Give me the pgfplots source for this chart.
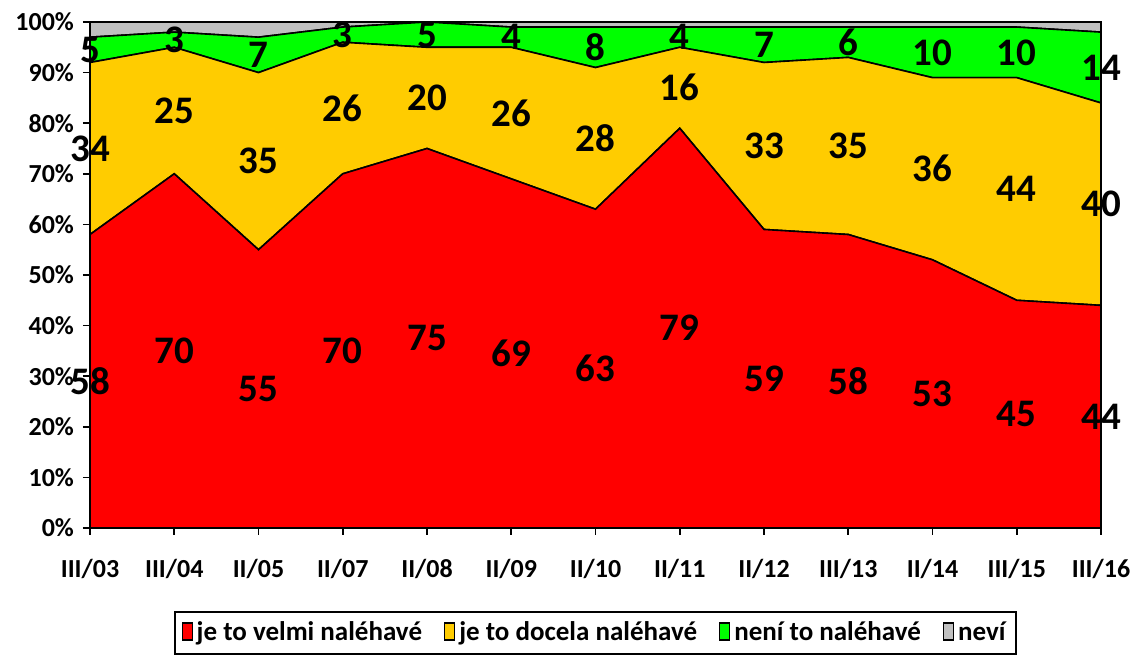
\documentclass[border=0pt]{standalone}
\usepackage{fontspec}
\setmainfont{Carlito}
\usepackage{pgfplots}
\pgfplotsset{compat=1.18}
\definecolor{cred}{RGB}{255,0,0}
\definecolor{cyellow}{RGB}{255,204,0}
\definecolor{cgreen}{RGB}{0,255,0}
\definecolor{cgray}{RGB}{192,192,192}

% shares in percent, one row per survey wave
\pgfplotstableread{
x red yellow green gray
0  58 34 5  3
1  70 25 3  2
2  55 35 7  3
3  70 26 3  1
4  75 20 5  0
5  69 26 4  1
6  63 28 8  1
7  79 16 4  1
8  59 33 7  1
9  58 35 6  1
10 53 36 10 1
11 45 44 10 1
12 44 40 14 2
}\shares

% label positions: middle of each band
\pgfplotstableread{
x y lab
0  29   58
1  35   70
2  27.5 55
3  35   70
4  37.5 75
5  34.5 69
6  31.5 63
7  39.5 79
8  29.5 59
9  29   58
10 26.5 53
11 22.5 45
12 22   44
0  75   34
1  82.5 25
2  72.5 35
3  83   26
4  85   20
5  82   26
6  77   28
7  87   16
8  75.5 33
9  75.5 35
10 71   36
11 67   44
12 64   40
0  94.5 5
1  96.5 3
2  93.5 7
3  97.5 3
4  97.5 5
5  97   4
6  95   8
7  97   4
8  95.5 7
9  96   6
10 94   10
11 94   10
12 91   14
}\labels

\begin{document}
\begin{tikzpicture}
\useasboundingbox (-45pt,-64.5pt) rectangle (522pt,264pt);
\begin{axis}[
    at={(0,0)}, anchor=south west,
    scale only axis,
    width=505.5pt, height=253pt,
    xmin=0, xmax=12, ymin=0, ymax=100,
    stack plots=y,
    area style,
    axis on top,
    axis line style={line width=1pt},
    xtick={0,...,12},
    xticklabels={III/03,III/04,II/05,II/07,II/08,II/09,II/10,II/11,II/12,III/13,II/14,III/15,III/16},
    ytick={0,10,...,100},
    yticklabel={\pgfmathprintnumber{\tick}\%},
    /pgf/number format/assume math mode=true,
    tick align=outside,
    xtick pos=bottom, ytick pos=left,
    major tick length=3.5pt,
    tick style={line width=0.8pt, black},
    ticklabel style={font=\fontsize{13}{14}\selectfont\bfseries},
    xticklabel style={yshift=-8.5pt},
    yticklabel style={xshift=-1pt},
    legend columns=-1,
    legend style={at={(0.5,-0.2075)}, anchor=center, draw=black, line width=1pt,
        font=\fontsize{13.5}{14}\selectfont\bfseries,
        inner xsep=3.5pt, inner ysep=3pt,
        /tikz/every even column/.append style={column sep=9pt}},
    legend image code/.code={\draw[#1, draw=black, line width=0.6pt] (0pt,-3.5pt) rectangle (5pt,5pt);},
]
\addplot[fill=cred, draw=black, line width=0.8pt] table[x=x, y=red] {\shares} \closedcycle;
\addlegendentry{je to velmi naléhavé}
\addplot[fill=cyellow, draw=black, line width=0.8pt] table[x=x, y=yellow] {\shares} \closedcycle;
\addlegendentry{je to docela naléhavé}
\addplot[fill=cgreen, draw=black, line width=0.8pt] table[x=x, y=green] {\shares} \closedcycle;
\addlegendentry{není to naléhavé}
\addplot[fill=cgray, draw=black, line width=0.8pt] table[x=x, y=gray] {\shares} \closedcycle;
\addlegendentry{neví}
\end{axis}
\begin{axis}[
    at={(0,0)}, anchor=south west,
    scale only axis,
    width=505.5pt, height=253pt,
    xmin=0, xmax=12, ymin=0, ymax=100,
    hide axis, clip=false,
]
\addplot[draw=none, mark=none, nodes near coords, point meta=explicit symbolic,
    nodes near coords style={anchor=center, inner sep=0pt,
        font=\fontsize{19.5}{20}\selectfont\bfseries, text=black}]
    table[x=x, y=y, meta=lab] {\labels};
\end{axis}
\end{tikzpicture}
\end{document}
